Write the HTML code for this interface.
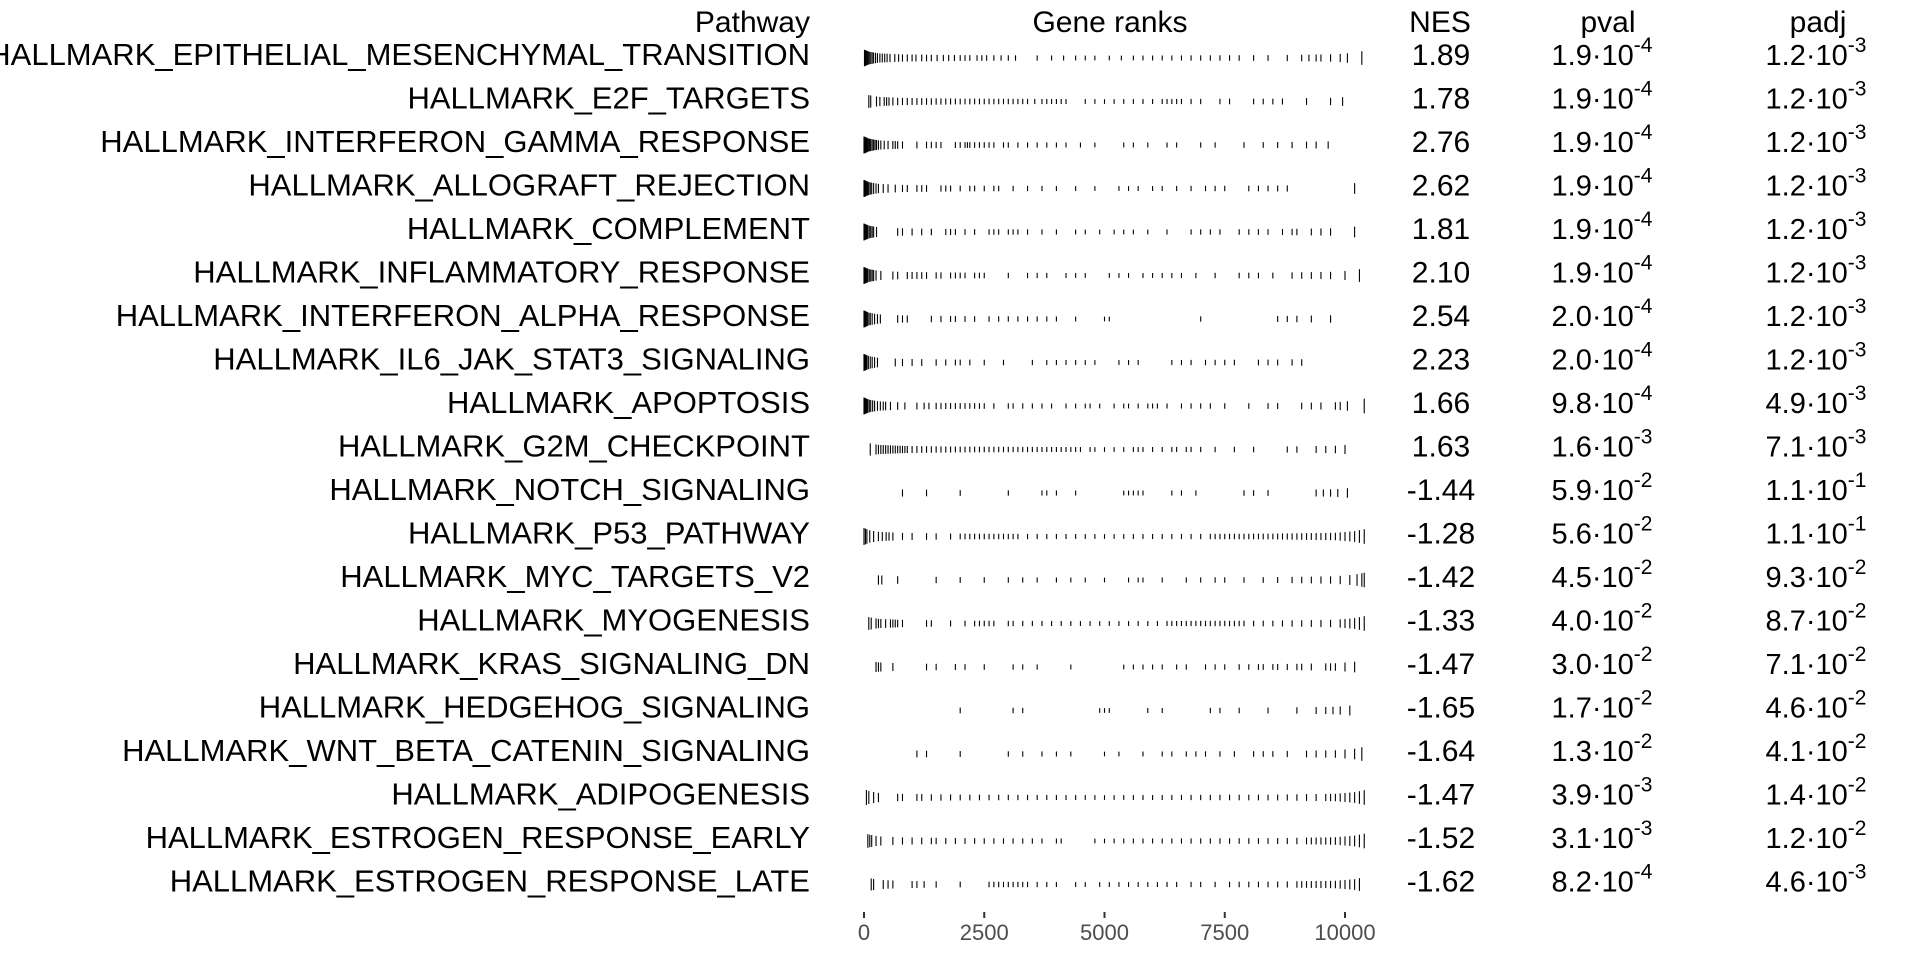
<!DOCTYPE html>
<html><head><meta charset="utf-8"><style>
html,body{margin:0;padding:0;background:#fff;}
svg{display:block;font-family:"Liberation Sans",Arial,sans-serif;}
</style></head><body>
<svg id="chart" width="1920" height="960" viewBox="0 0 1920 960">
<g id="headers">
<text x="810" y="32" font-size="30" text-anchor="end">Pathway</text>
<text x="1110" y="32" font-size="30" text-anchor="middle">Gene ranks</text>
<text x="1440" y="32" font-size="30" text-anchor="middle">NES</text>
<text x="1608" y="32" font-size="30" text-anchor="middle">pval</text>
<text x="1818" y="32" font-size="30" text-anchor="middle">padj</text>
</g>
<g id="rows"></g>
<g id="axis"></g>
</svg>
<script>
const pathways=["HALLMARK_EPITHELIAL_MESENCHYMAL_TRANSITION","HALLMARK_E2F_TARGETS","HALLMARK_INTERFERON_GAMMA_RESPONSE","HALLMARK_ALLOGRAFT_REJECTION","HALLMARK_COMPLEMENT","HALLMARK_INFLAMMATORY_RESPONSE","HALLMARK_INTERFERON_ALPHA_RESPONSE","HALLMARK_IL6_JAK_STAT3_SIGNALING","HALLMARK_APOPTOSIS","HALLMARK_G2M_CHECKPOINT","HALLMARK_NOTCH_SIGNALING","HALLMARK_P53_PATHWAY","HALLMARK_MYC_TARGETS_V2","HALLMARK_MYOGENESIS","HALLMARK_KRAS_SIGNALING_DN","HALLMARK_HEDGEHOG_SIGNALING","HALLMARK_WNT_BETA_CATENIN_SIGNALING","HALLMARK_ADIPOGENESIS","HALLMARK_ESTROGEN_RESPONSE_EARLY","HALLMARK_ESTROGEN_RESPONSE_LATE"];
const nes=["1.89","1.78","2.76","2.62","1.81","2.10","2.54","2.23","1.66","1.63","-1.44","-1.28","-1.42","-1.33","-1.47","-1.65","-1.64","-1.47","-1.52","-1.62"];
const pvalMant=["1.9","1.9","1.9","1.9","1.9","1.9","2.0","2.0","9.8","1.6","5.9","5.6","4.5","4.0","3.0","1.7","1.3","3.9","3.1","8.2"];
const pvalExp=["-4","-4","-4","-4","-4","-4","-4","-4","-4","-3","-2","-2","-2","-2","-2","-2","-2","-3","-3","-4"];
const padjMant=["1.2","1.2","1.2","1.2","1.2","1.2","1.2","1.2","4.9","7.1","1.1","1.1","9.3","8.7","7.1","4.6","4.1","1.4","1.2","4.6"];
const padjExp=["-3","-3","-3","-3","-3","-3","-3","-3","-3","-3","-1","-1","-2","-2","-2","-2","-2","-2","-2","-3"];
const axisTicks=[0,2500,5000,7500,10000];
const statRanks=[0,100,300,800,2000,5000,8500,9800,10200,10450];
const statValues=[1.0,0.7,0.45,0.3,0.2,0.12,0.2,0.32,0.55,0.9];
const ranks=[
[10,30,50,70,90,110,140,170,200,240,280,330,380,430,480,540,640,720,800,900,1000,1080,1200,1300,1400,1520,1650,1760,1880,2000,2100,2200,2350,2450,2550,2700,2850,3000,3150,3600,3900,4150,4400,4600,4800,5100,5350,5600,5800,6000,6200,6400,6600,6800,7000,7200,7400,7600,7800,8100,8400,8800,9100,9250,9400,9500,9700,9900,10050,10350],
[100,140,260,330,420,470,520,600,700,800,900,1000,1100,1200,1300,1400,1500,1600,1700,1800,1900,2000,2100,2200,2300,2400,2500,2600,2700,2800,2900,3000,3100,3200,3300,3400,3550,3700,3800,3900,4000,4100,4200,4600,4800,5000,5200,5400,5600,5800,6000,6200,6300,6400,6500,6600,6800,7000,7400,7600,8100,8300,8500,8700,9200,9700,9950],
[0,10,20,30,40,50,60,80,100,120,140,170,200,230,260,300,350,420,500,600,650,700,800,1100,1300,1400,1500,1600,1900,2000,2100,2150,2200,2300,2400,2500,2600,2700,2900,3000,3200,3400,3600,3800,4000,4200,4500,4800,5400,5600,5900,6300,6500,7000,7300,7900,8300,8600,8900,9200,9400,9650],
[0,10,20,30,40,60,80,100,130,160,200,250,300,400,500,650,800,900,1100,1200,1300,1600,1700,1800,2000,2200,2300,2500,2700,2800,3100,3400,3700,4000,4400,4800,5300,5500,5700,6000,6200,6500,6800,7100,7300,7500,8000,8200,8400,8600,8800,10200],
[0,20,40,60,80,110,140,170,200,260,700,800,1000,1200,1400,1700,1800,1900,2100,2300,2600,2700,2800,3000,3100,3200,3400,3700,4000,4400,4600,4900,5200,5400,5600,5900,6300,6800,7000,7200,7400,7800,8000,8200,8400,8700,8900,9000,9300,9500,9700,10200],
[0,20,40,60,80,110,140,170,200,250,350,600,700,900,1000,1100,1200,1300,1500,1600,1800,1900,2000,2100,2300,2400,2500,3000,3400,3600,3800,4200,4400,4600,5100,5300,5500,5800,6000,6200,6400,6600,6900,7300,7800,8000,8200,8500,8900,9100,9300,9500,9700,10000,10300],
[0,15,30,50,70,100,130,170,220,280,340,700,800,900,1400,1600,1800,1900,2100,2300,2600,2800,3000,3200,3400,3600,3800,4000,4400,5000,5100,7000,8600,8800,9000,9300,9700],
[0,20,40,60,90,130,170,220,280,650,800,1000,1200,1500,1700,1900,2000,2200,2500,2900,3500,3800,4000,4200,4400,4600,4800,5300,5500,5700,6400,6600,6800,7100,7300,7500,7700,8200,8400,8600,8900,9100],
[0,10,20,40,60,80,110,140,180,220,280,340,400,450,550,700,850,1100,1250,1350,1500,1600,1700,1800,1900,2000,2100,2200,2300,2400,2500,2700,3000,3100,3300,3500,3700,3900,4200,4400,4600,4700,4900,5200,5400,5500,5700,5900,6000,6100,6300,6600,6800,7000,7200,7500,8000,8400,8600,9100,9300,9500,9800,9900,10050,10400],
[130,250,300,350,400,450,500,550,600,650,700,750,800,850,900,1000,1100,1200,1300,1400,1500,1600,1700,1800,1900,2000,2100,2200,2300,2400,2500,2600,2700,2800,2900,3000,3100,3200,3300,3400,3500,3600,3700,3800,3900,4000,4100,4200,4300,4400,4500,4700,4800,5000,5200,5400,5600,5700,5800,6000,6200,6400,6500,6700,6800,7000,7300,7700,8100,8800,9000,9400,9600,9800,10000],
[800,1300,2000,3000,3700,3800,4000,4400,5400,5500,5600,5700,5800,6400,6600,6900,7900,8100,8400,9400,9550,9700,9850,10050],
[0,30,60,120,200,300,380,460,520,600,800,1000,1300,1500,1800,2000,2100,2200,2300,2400,2500,2600,2700,2800,2900,3000,3100,3200,3400,3600,3800,4000,4200,4400,4600,4800,5000,5200,5400,5600,5800,6000,6200,6400,6600,6800,7000,7200,7300,7400,7500,7600,7700,7800,7900,8000,8100,8200,8300,8400,8500,8600,8700,8800,8900,9000,9100,9200,9300,9400,9500,9600,9700,9800,9900,10000,10100,10200,10300,10400],
[300,370,700,1500,2000,2500,3000,3300,3600,4000,4300,4600,5000,5500,5700,5800,6200,6700,7000,7300,7500,7900,8300,8600,8900,9100,9300,9500,9700,9900,10100,10250,10350,10400],
[100,150,250,300,350,450,550,600,650,700,800,1300,1400,1800,2100,2300,2400,2500,2600,2700,3000,3100,3300,3500,3700,3900,4100,4300,4500,4700,4900,5100,5300,5500,5700,5900,6100,6300,6400,6500,6600,6700,6800,6900,7000,7100,7200,7300,7400,7500,7600,7700,7800,7900,8100,8300,8500,8700,8900,9100,9300,9500,9700,9900,10000,10100,10200,10300,10400],
[250,300,350,600,1300,1500,1900,2100,2500,3100,3300,3600,4300,5400,5600,5800,6000,6200,6500,6700,7100,7300,7500,7800,8000,8200,8300,8500,8600,8800,9000,9100,9300,9600,9700,9800,10000,10200],
[2000,3100,3300,4900,5000,5100,5900,6200,7200,7400,7800,8400,9000,9400,9600,9750,9900,10100],
[1100,1300,2000,3000,3300,3700,4000,4300,5000,5300,5800,6200,6400,6700,6900,7100,7400,7700,8100,8300,8500,8800,9200,9400,9600,9800,10000,10200,10350],
[50,100,200,300,700,800,1100,1200,1400,1600,1800,2000,2200,2400,2600,2800,3000,3200,3400,3600,3800,4000,4200,4400,4600,4800,5000,5200,5400,5600,5800,6000,6200,6400,6600,6800,7000,7200,7400,7600,7800,8000,8200,8400,8600,8800,9000,9200,9400,9600,9700,9800,9900,10000,10100,10200,10300,10400],
[80,120,160,250,350,600,800,1000,1200,1400,1500,1700,1900,2100,2300,2500,2700,2900,3100,3300,3500,3700,4000,4100,4800,5000,5200,5400,5600,5800,6000,6200,6400,6600,6800,7000,7200,7400,7600,7800,8000,8200,8400,8600,8800,9000,9200,9300,9400,9500,9600,9700,9800,9900,10000,10100,10200,10300,10400],
[150,200,400,500,600,1000,1100,1250,1500,2000,2600,2700,2800,2900,3000,3100,3200,3300,3400,3600,3800,4000,4400,4600,4900,5100,5300,5500,5700,5900,6100,6300,6500,6800,7000,7300,7600,7800,8000,8200,8400,8600,8800,9000,9100,9200,9300,9400,9500,9600,9700,9800,9900,10000,10100,10200,10300]
];
const NS="http://www.w3.org/2000/svg";
const X0=864, XSCALE=(1345-864)/10000;
function xScale(v){return X0+v*XSCALE;}
function rowBase(i){return 65+i*43.5;}
function statAt(r){
  for(let k=1;k<statRanks.length;k++){
    if(r<=statRanks[k]){const t=(r-statRanks[k-1])/(statRanks[k]-statRanks[k-1]);return statValues[k-1]+t*(statValues[k]-statValues[k-1]);}
  }
  return statValues[statValues.length-1];
}
const rowsG=document.getElementById('rows');
function mk(tag,attrs){const e=document.createElementNS(NS,tag);for(const k in attrs)e.setAttribute(k,attrs[k]);return e;}
pathways.forEach((p,i)=>{
  const y=rowBase(i);
  const g=mk('g',{});
  
  
  const lab=mk('text',{x:810,y:y,'font-size':31,'text-anchor':'end'});
  
  
  lab.textContent=p;g.appendChild(lab);
  const tg=mk('g',{stroke:'#000','stroke-width':1.1});
  
  
  const cy=y-7;
  ranks[i].forEach(r=>{
    const h=1.5+statAt(r)*7;
    const x=xScale(r);
    const l=mk('line',{x1:x,x2:x,y1:cy-h,y2:cy+h});
    
    
    tg.appendChild(l);
  });
  g.appendChild(tg);
  const n=mk('text',{x:1441,y:y,'font-size':30,'text-anchor':'middle'});
  
  
  n.textContent=nes[i];g.appendChild(n);
  [[1602,pvalMant,pvalExp,'pval-value'],[1816,padjMant,padjExp,'padj-value']].forEach(c=>{
    const t=mk('text',{x:c[0],y:y,'font-size':29,'text-anchor':'middle'});
    
    
    t.appendChild(document.createTextNode(c[1][i]+'\u00b710'));
    const s=mk('tspan',{dy:-13,'font-size':21});
    s.textContent=c[2][i];t.appendChild(s);
    g.appendChild(t);
  });
  rowsG.appendChild(g);
});
const ax=document.getElementById('axis');
axisTicks.forEach(v=>{
  const x=xScale(v);
  const l=mk('line',{x1:x,x2:x,y1:912,y2:918,stroke:'#333','stroke-width':2});
  
  
  ax.appendChild(l);
  const t=mk('text',{x:x,y:940,'font-size':22,'text-anchor':'middle',fill:'#4d4d4d'});
  
  
  t.textContent=v;ax.appendChild(t);
});
</script>
</body></html>
